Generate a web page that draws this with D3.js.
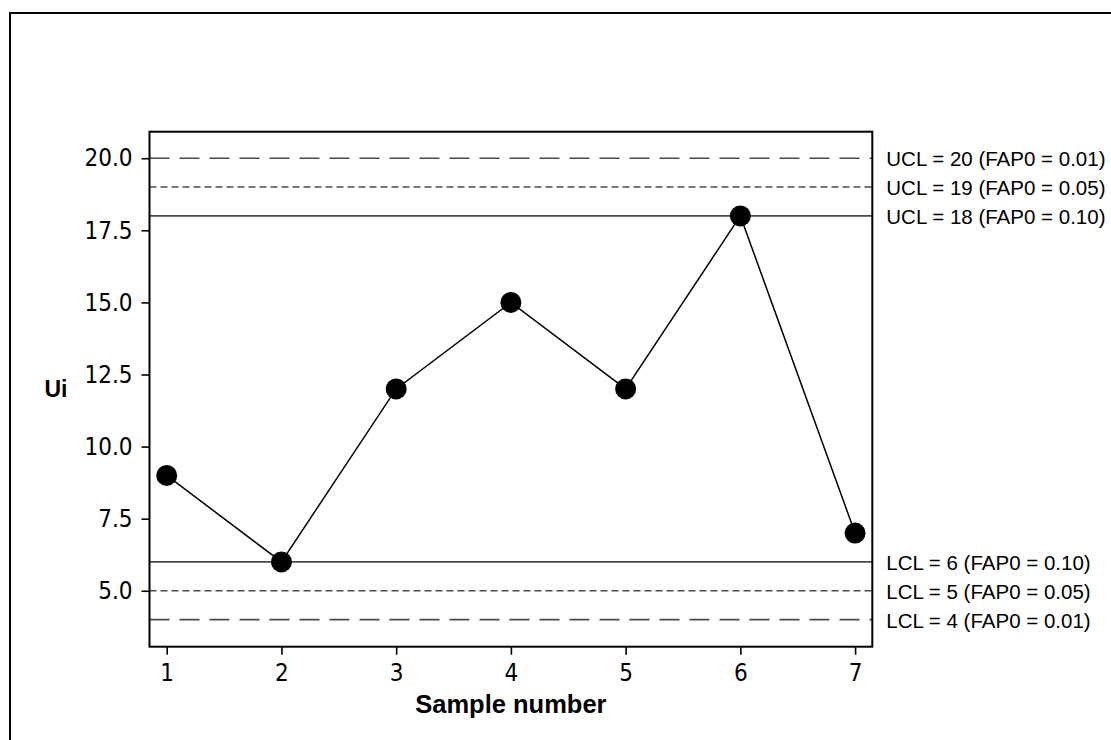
<!DOCTYPE html>
<html>
<head>
<meta charset="utf-8">
<script src="https://cdn.jsdelivr.net/npm/d3@7/dist/d3.min.js"></script>
<style>
  html, body { margin: 0; padding: 0; background: #fff; }
  svg { display: block; }
</style>
</head>
<body>
<script>
// ---- data ----
const samples = [1, 2, 3, 4, 5, 6, 7];
const uiValues = [9, 6, 12, 15, 12, 18, 7];
const yTicks = [5.0, 7.5, 10.0, 12.5, 15.0, 17.5, 20.0];
const limitValues = [20, 19, 18, 6, 5, 4];
const limitLabels = [
  "UCL = 20 (FAP0 = 0.01)",
  "UCL = 19 (FAP0 = 0.05)",
  "UCL = 18 (FAP0 = 0.10)",
  "LCL = 6 (FAP0 = 0.10)",
  "LCL = 5 (FAP0 = 0.05)",
  "LCL = 4 (FAP0 = 0.01)"
];
const limitStyles = ["long", "short", "solid", "solid", "short", "long"];
const xTitle = "Sample number";
const yTitle = "Ui";

// ---- layout ----
const W = 1111, H = 740;
const plot = { left: 149.5, top: 131.7, right: 872.3, bottom: 646.7 };

const svg = d3.select("body").append("svg").attr("width", W).attr("height", H);

// outer frame (only top/left visible in reference)
svg.append("rect").attr("x", 10).attr("y", 13).attr("width", 1300).attr("height", 900)
  .attr("fill", "none").attr("stroke", "#000").attr("stroke-width", 2);

const x = d3.scaleLinear().domain([0.85, 7.15]).range([plot.left, plot.right]);
const y = d3.scaleLinear().domain([3.06, 20.92]).range([plot.bottom, plot.top]);

const tickFont = "'DejaVu Sans Condensed', 'DejaVu Sans', sans-serif";

// control limit lines
const dashMap = { long: "20,10", short: "7,4", solid: null };
svg.append("g").selectAll("line").data(limitValues).join("line")
  .attr("x1", plot.left).attr("x2", plot.right)
  .attr("y1", d => y(d)).attr("y2", d => y(d))
  .attr("stroke", "#4a4a4a").attr("stroke-width", 1.6)
  .attr("stroke-dasharray", (d, i) => dashMap[limitStyles[i]]);

// limit labels
svg.append("g").selectAll("text").data(limitValues).join("text")
  .attr("x", plot.right + 14)
  .attr("y", d => y(d) + 8)
  .attr("font-family", "'Liberation Sans', Arial, sans-serif")
  .attr("font-size", 20.5)
  .attr("fill", "#000")
  .text((d, i) => limitLabels[i]);

// data line + markers
const line = d3.line().x((d, i) => x(samples[i])).y(d => y(d));
svg.append("path").datum(uiValues).attr("d", line)
  .attr("fill", "none").attr("stroke", "#000").attr("stroke-width", 1.5);
svg.append("g").selectAll("circle").data(uiValues).join("circle")
  .attr("cx", (d, i) => x(samples[i])).attr("cy", d => y(d))
  .attr("r", 10.5).attr("fill", "#000");

// axes
const yAxis = svg.append("g").attr("transform", `translate(${plot.left},0)`)
  .call(d3.axisLeft(y).tickValues(yTicks).tickFormat(d3.format(".1f")).tickSize(8).tickPadding(9));
const xAxis = svg.append("g").attr("transform", `translate(0,${plot.bottom})`)
  .call(d3.axisBottom(x).tickValues(samples).tickFormat(d3.format("d")).tickSize(8).tickPadding(9));
[yAxis, xAxis].forEach(g => {
  g.select(".domain").remove();
  g.selectAll(".tick line").attr("stroke", "#000").attr("stroke-width", 1.6);
  g.selectAll(".tick text").attr("font-family", tickFont).attr("font-size", 24)
    .attr("font-stretch", "condensed").attr("fill", "#000");
});

// plot frame
svg.append("rect").attr("x", plot.left).attr("y", plot.top)
  .attr("width", plot.right - plot.left).attr("height", plot.bottom - plot.top)
  .attr("fill", "none").attr("stroke", "#000").attr("stroke-width", 2);

// titles
svg.append("text").attr("x", (plot.left + plot.right) / 2).attr("y", 713)
  .attr("text-anchor", "middle")
  .attr("font-family", "'Liberation Sans', Arial, sans-serif")
  .attr("font-weight", "bold").attr("font-size", 25.5)
  .text(xTitle);
svg.append("text").attr("x", 56).attr("y", 397)
  .attr("text-anchor", "middle")
  .attr("font-family", "'Liberation Sans', Arial, sans-serif")
  .attr("font-weight", "bold").attr("font-size", 23)
  .text(yTitle);
</script>
</body>
</html>
